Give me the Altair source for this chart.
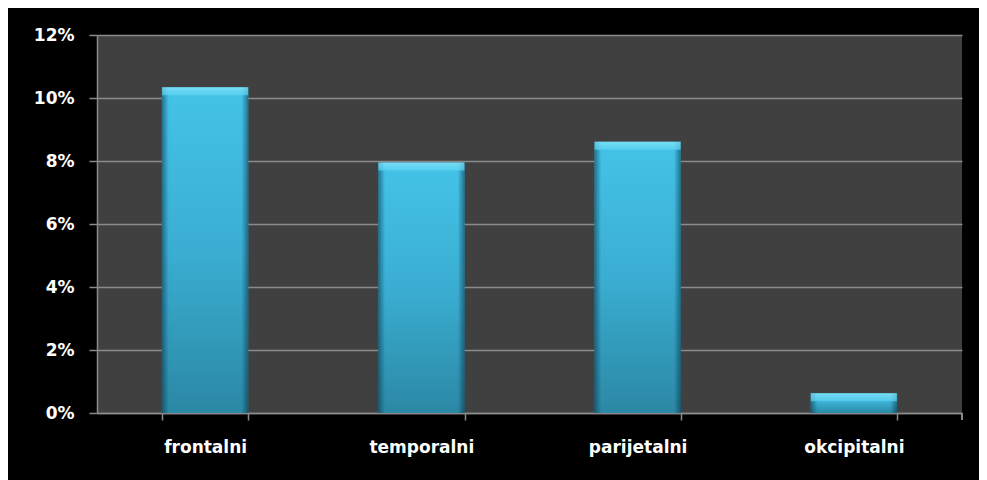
import altair as alt
import pandas as pd

categories = ["frontalni", "temporalni", "parijetalni", "okcipitalni"]
values = [0.1034, 0.0795, 0.0861, 0.0063]
y_ticks = [0, 0.02, 0.04, 0.06, 0.08, 0.10, 0.12]

df = pd.DataFrame({"region": categories, "share": values})

FONT = "DejaVu Sans"
GRID = "#8a8a8a"

x = alt.X(
    "region:N", sort=categories, title=None,
    scale=alt.Scale(paddingInner=0.6, paddingOuter=0.3),
    axis=alt.Axis(labelAngle=0, tickBand="extent", grid=False,
                  domainColor=GRID, domainWidth=1.5, tickColor=GRID, tickWidth=1.5,
                  tickSize=7, labelPadding=19, labelColor="white", labelFont=FONT,
                  labelFontSize=17, labelFontWeight="bold"),
)
y = alt.Y(
    "share:Q", title=None,
    scale=alt.Scale(domain=[0, 0.12], nice=False),
    axis=alt.Axis(format=".0%", values=y_ticks, grid=True, gridColor=GRID, gridWidth=1.5,
                  domainColor=GRID, domainWidth=1.5, tickColor=GRID, tickWidth=1.5,
                  tickSize=8, labelPadding=15, labelColor="white", labelFont=FONT,
                  labelFontSize=17, labelFontWeight="bold"),
)

body = alt.Chart(df).mark_bar(
    color=alt.Gradient(
        gradient="linear", x1=0, x2=0, y1=0, y2=1,
        stops=[alt.GradientStop(color="#44c3e7", offset=0),
               alt.GradientStop(color="#3aaed2", offset=0.5),
               alt.GradientStop(color="#2b88a5", offset=1)],
    )
).encode(x=x, y=y)

edges = alt.Chart(df).mark_bar(
    color=alt.Gradient(
        gradient="linear", x1=0, x2=1, y1=0, y2=0,
        stops=[alt.GradientStop(color="rgba(8,45,65,0.55)", offset=0),
               alt.GradientStop(color="rgba(8,45,65,0)", offset=0.08),
               alt.GradientStop(color="rgba(8,45,65,0)", offset=0.92),
               alt.GradientStop(color="rgba(8,45,65,0.55)", offset=1)],
    )
).encode(x=x, y=y)

bevel = alt.Chart(df).mark_tick(
    thickness=8, size=86, yOffset=4,
    color=alt.Gradient(
        gradient="linear", x1=0, x2=0, y1=0, y2=1,
        stops=[alt.GradientStop(color="#8ce8fc", offset=0),
               alt.GradientStop(color="#5ad3f2", offset=1)],
    ),
).encode(x=x, y=y)

end_tick = alt.Chart(df).mark_rule(color=GRID, strokeWidth=1.5).encode(
    x=alt.value(865), y=alt.value(378), y2=alt.value(385)
)

chart = alt.layer(body, edges, bevel, end_tick).properties(
    width=865, height=378,
    autosize=alt.AutoSizeParams(type="none"),
    padding={"left": 89, "top": 27, "right": 17, "bottom": 67},
    background="black",
).configure_view(fill="#404040", strokeWidth=0)

chart.save("out.html", embed_options={"renderer": "svg", "actions": False})
